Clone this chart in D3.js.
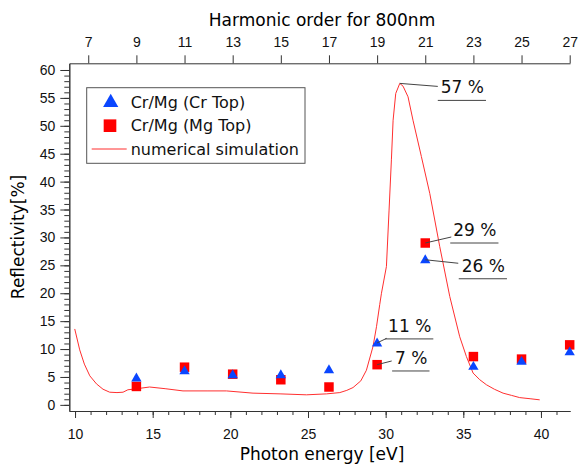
<!DOCTYPE html>
<html>
<head>
<meta charset="utf-8">
<script src="https://cdn.jsdelivr.net/npm/d3@7"></script>
<style>
  body { margin: 0; background: #fff; }
  svg { display: block; font-family: "DejaVu Sans", sans-serif; }
  .axis path, .axis line { stroke: #333; }
  .axis text { fill: #111; font-size: 14px; }
</style>
</head>
<body>
<div id="chart"></div>
<script>
// Measured points, one per harmonic order (9..27 of 800nm)
const energy = [13.95, 17.05, 20.15, 23.25, 26.35, 29.45, 32.55, 35.65, 38.75, 41.85];
const crTop = [4.8, 6.1, 5.4, 5.4, 6.3, 11.1, 26.0, 6.9, 7.8, 9.5];
const mgTop = [3.3, 6.75, 5.5, 4.5, 3.2, 7.2, 29.0, 8.65, 8.2, 10.75];

// Numerical simulation curve
const simEnergy = [9.98, 10.3, 10.6, 10.95, 11.38, 11.8, 12.23, 12.7, 13.09, 13.4, 14.0, 14.8, 15.8,
  16.95, 18.5, 19.75, 21.46, 23.2, 24.9, 26.2, 27.05, 27.5, 27.9, 28.4, 28.76, 29.19, 29.41, 29.62,
  29.73, 30.05, 30.22, 30.37, 30.48, 30.65, 30.91, 31.12, 31.44, 31.76, 32.3, 32.84, 33.48, 34.13,
  34.77, 35.2, 35.63, 36.06, 36.49, 37.0, 37.56, 38.1, 38.63, 39.3, 39.92];
const simRefl = [13.6, 9.85, 7.3, 5.2, 3.76, 2.8, 2.27, 2.2, 2.27, 2.7, 2.9, 3.2, 2.9,
  2.5, 2.5, 2.5, 2.1, 1.97, 1.8, 1.97, 2.2, 2.6, 3.1, 4.3, 6.2, 10.5, 14.0, 18.0,
  20.0, 24.8, 34.9, 43.9, 51.0, 55.8, 57.6, 57.1, 55.2, 51.0, 44.5, 37.9, 28.4, 19.4,
  12.2, 8.65, 5.7, 4.5, 3.6, 2.8, 2.1, 1.7, 1.3, 1.1, 0.9];

const energyTicks = [10, 15, 20, 25, 30, 35, 40];
const reflTicks = [0, 5, 10, 15, 20, 25, 30, 35, 40, 45, 50, 55, 60];
const harmonicTicks = [7, 9, 11, 13, 15, 17, 19, 21, 23, 25, 27];

const seriesNames = ["Cr/Mg (Cr Top)", "Cr/Mg (Mg Top)", "numerical simulation"];

// Tags: which point each label points at
const notes = [
  { label: "57 %", series: "sim", i: simRefl.indexOf(d3.max(simRefl)) },
  { label: "29 %", series: "mg", i: 6 },
  { label: "26 %", series: "cr", i: 6 },
  { label: "11 %", series: "cr", i: 5 },
  { label: "7 %", series: "mg", i: 5 }
];
// label placement relative to the point (text start, leader end)
const noteOffsets = [
  { tx: 41, ty: 10, lx: 38, ly: 3 },
  { tx: 28, ty: -7, lx: 26, ly: -6 },
  { tx: 36.5, ty: 12, lx: 33, ly: 3.5 },
  { tx: 11, ty: -11, lx: 9.6, ly: -4.6 },
  { tx: 18, ty: -0.7, lx: 14.6, ly: -3.7 }
];

const width = 578, height = 464;
const plotL = 69.3, plotR = 570, plotT = 63.3, plotB = 411;

const svg = d3.select('#chart').append('svg')
  .attr('width', width)
  .attr('height', height);

const x = d3.scaleLinear().domain([9.63, 41.87]).range([plotL, plotR]);
const y = d3.scaleLinear().domain([-1.1, 61.2]).range([plotB, plotT]);
// harmonic order of 800nm light, 1.55 eV per order
const xTop = d3.scaleLinear().domain(x.domain().map(e => e / 1.55)).range([plotL, plotR]);

// Minor ticks
svg.append('g')
  .attr('class', 'axis')
  .attr('transform', `translate(${plotL},0)`)
  .call(d3.axisLeft(y).tickValues(d3.range(0, 61, 1)).tickSize(5).tickSizeOuter(0).tickFormat(''));
svg.append('g')
  .attr('class', 'axis')
  .attr('transform', `translate(0,${plotB})`)
  .call(d3.axisBottom(x).tickValues(d3.range(10, 42, 1)).tickSize(4).tickSizeOuter(0).tickFormat(''));

// Major axes
svg.append('g')
  .attr('class', 'axis')
  .attr('transform', `translate(${plotL},0)`)
  .call(d3.axisLeft(y).tickValues(reflTicks).tickSize(9).tickSizeOuter(0).tickPadding(5));
svg.append('g')
  .attr('class', 'axis')
  .attr('transform', `translate(0,${plotB})`)
  .call(d3.axisBottom(x).tickValues(energyTicks).tickSize(7).tickSizeOuter(0).tickPadding(11.5));
svg.append('g')
  .attr('class', 'axis')
  .attr('transform', `translate(0,${plotT})`)
  .call(d3.axisTop(xTop).tickValues(harmonicTicks).tickSize(8).tickSizeOuter(0).tickPadding(8.6));

svg.selectAll('.axis .domain').attr('stroke-width', 1);

// Axis titles
svg.append('text')
  .attr('x', 322).attr('y', 459.5)
  .attr('text-anchor', 'middle')
  .attr('font-size', '17px')
  .text('Photon energy [eV]');
svg.append('text')
  .attr('x', 322).attr('y', 26)
  .attr('text-anchor', 'middle')
  .attr('font-size', '17px')
  .text('Harmonic order for 800nm');
svg.append('text')
  .attr('transform', 'translate(24,237) rotate(-90)')
  .attr('text-anchor', 'middle')
  .attr('font-size', '17px')
  .text('Reflectivity[%]');

// Simulation line
const line = d3.line()
  .x(function(d, i) { return x(simEnergy[i]); })
  .y(function(d) { return y(d); });
svg.append('path')
  .datum(simRefl)
  .attr('d', line)
  .attr('fill', 'none')
  .attr('stroke', '#ff2f2f')
  .attr('stroke-width', 1);

// Markers: squares under triangles
const square = d3.symbol().type(d3.symbolSquare).size(90);
const tri = d3.symbol().type(d3.symbolTriangle).size(46);

svg.append('g').selectAll('path')
  .data(mgTop)
  .enter()
  .append('path')
  .attr('d', square)
  .attr('transform', function(d, i) { return `translate(${x(energy[i])},${y(d)})`; })
  .attr('fill', '#ff0000');

svg.append('g').selectAll('path')
  .data(crTop)
  .enter()
  .append('path')
  .attr('d', tri)
  .attr('transform', function(d, i) { return `translate(${x(energy[i])},${y(d) + 0.5})`; })
  .attr('fill', '#0a46ff');

// Tags with leader and underline
function notePoint(n) {
  if (n.series == 'sim') return [x(simEnergy[n.i]), y(simRefl[n.i])];
  if (n.series == 'mg') return [x(energy[n.i]), y(mgTop[n.i])];
  return [x(energy[n.i]), y(crTop[n.i])];
}

notes.forEach(function(n, k) {
  const p = notePoint(n);
  const o = noteOffsets[k];
  const g = svg.append('g');
  g.append('line')
    .attr('x1', p[0]).attr('y1', p[1])
    .attr('x2', p[0] + o.lx).attr('y2', p[1] + o.ly)
    .attr('stroke', '#444')
    .attr('stroke-width', 1);
  const t = g.append('text')
    .attr('x', p[0] + o.tx)
    .attr('y', p[1] + o.ty)
    .attr('font-size', '17px')
    .attr('fill', '#111')
    .text(n.label);
  const w = t.node().getComputedTextLength();
  g.append('line')
    .attr('x1', p[0] + o.tx - 3).attr('y1', p[1] + o.ty + 7)
    .attr('x2', p[0] + o.tx + w + 2).attr('y2', p[1] + o.ty + 7)
    .attr('stroke', '#444')
    .attr('stroke-width', 1);
});

// Legend
const legend = svg.append('g');
legend.append('rect')
  .attr('x', 86.7).attr('y', 87.7)
  .attr('width', 218.3).attr('height', 75.6)
  .attr('fill', '#fff')
  .attr('stroke', '#555')
  .attr('stroke-width', 1);

legend.append('path')
  .attr('d', d3.symbol().type(d3.symbolTriangle).size(100))
  .attr('transform', 'translate(110.7,102.5)')
  .attr('fill', '#0a46ff');
legend.append('path')
  .attr('d', d3.symbol().type(d3.symbolSquare).size(160))
  .attr('transform', 'translate(110,125.7)')
  .attr('fill', '#ff0000');
legend.append('line')
  .attr('x1', 91.7).attr('x2', 126.7)
  .attr('y1', 149).attr('y2', 149)
  .attr('stroke', '#ff2f2f')
  .attr('stroke-width', 1);

legend.selectAll('text')
  .data(seriesNames)
  .enter()
  .append('text')
  .attr('x', 130.7)
  .attr('y', function(d, i) { return 107.7 + i * 23.7; })
  .attr('font-size', '16px')
  .attr('fill', '#111')
  .text(function(d) { return d; });
</script>
</body>
</html>
